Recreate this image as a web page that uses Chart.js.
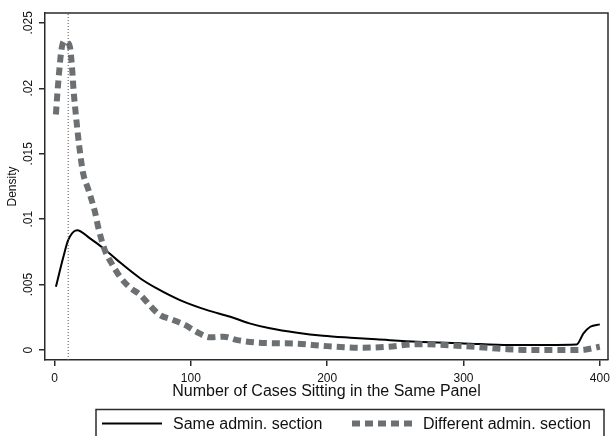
<!DOCTYPE html>
<html>
<head>
<meta charset="utf-8">
<script src="https://cdn.jsdelivr.net/npm/chart.js@4"></script>
<style>
  html, body { margin: 0; padding: 0; background: #fff; }
  #densityChart { display: block; }
</style>
</head>
<body>
<canvas id="densityChart" width="610" height="436"></canvas>
<script>
// kernel density, same admin. section (solid)
const sameX = [1, 6.5, 10, 16.5, 26, 36, 46, 63, 75, 92, 112, 129, 143, 158, 178, 197, 217, 236, 266, 300, 334, 383, 388, 393, 400];
const sameY = [0.00483, 0.00712, 0.0084, 0.00916, 0.00853, 0.00776, 0.00687, 0.00547, 0.00471, 0.00382, 0.00305, 0.00254, 0.00204, 0.00166, 0.00132, 0.00109, 0.00094, 0.00082, 0.00063, 0.00051, 0.00038, 0.00043, 0.00127, 0.00178, 0.00196];

// different admin. section (dashed)
const diffX = [1, 2, 3.5, 5, 7, 9.5, 11.4, 12.6, 14, 16, 18.2, 21, 25, 30, 32, 37, 42, 48, 55, 63, 70, 77, 87, 96, 104, 114, 124, 134, 150, 175, 200, 226, 245, 265, 300, 330, 350, 380, 390, 400];
const diffY = [0.0180, 0.0195, 0.0214, 0.0229, 0.0236, 0.0235, 0.0231, 0.0219, 0.0198, 0.0176, 0.0155, 0.0135, 0.0122, 0.0104, 0.0094, 0.0076, 0.0066, 0.0056, 0.0048, 0.0042, 0.0034, 0.0027, 0.0023, 0.0019, 0.0014, 0.00097, 0.00102, 0.00076, 0.00056, 0.0005, 0.0003, 0.00018, 0.00025, 0.00045, 0.0003, 0.00008, 0.0, 0.0, 0.00005, 0.00025];

const refLineX = 10;
const xTicks = [0, 100, 200, 300, 400];
const yTicks = [0, 0.005, 0.01, 0.015, 0.02, 0.025];
const seriesLabels = ['Same admin. section', 'Different admin. section'];
const xTitle = 'Number of Cases Sitting in the Same Panel';
const yTitle = 'Density';

const X_MIN = -7, X_MAX = 406;
const Y_MIN = -0.00076, Y_MAX = 0.02575;
const FONT = "'Liberation Sans', Arial, sans-serif";
const AXIS = '#2b2b2b';
const GREY = '#6c7072';

function toPoints(xs, ys) {
    return xs.map((x, i) => ({ x: x, y: ys[i] }));
}

function yLabel(v) {
    if (v === 0) return '0';
    return String(+v.toFixed(3)).replace(/^0/, '');
}

// frame, rotated y labels, titles and the boxed legend
const stataDecor = {
    id: 'stataDecor',
    afterDraw(chart) {
        const ctx = chart.ctx;
        const area = chart.chartArea;
        const yScale = chart.scales.y;

        ctx.save();
        ctx.strokeStyle = AXIS;
        ctx.lineWidth = 1.5;
        ctx.beginPath();
        ctx.moveTo(area.left, area.top);
        ctx.lineTo(area.right, area.top);
        ctx.lineTo(area.right, area.bottom);
        ctx.stroke();

        ctx.fillStyle = '#111';
        ctx.font = '12px ' + FONT;
        ctx.textAlign = 'center';
        ctx.textBaseline = 'middle';
        yTicks.forEach(v => {
            const py = yScale.getPixelForValue(v);
            ctx.save();
            ctx.translate(29, py);
            ctx.rotate(-Math.PI / 2);
            ctx.fillText(yLabel(v), 0, 0);
            ctx.restore();
        });

        ctx.save();
        ctx.translate(13, (area.top + area.bottom) / 2);
        ctx.rotate(-Math.PI / 2);
        ctx.fillText(yTitle, 0, 0);
        ctx.restore();

        ctx.font = '16px ' + FONT;
        ctx.fillText(xTitle, (area.left + area.right) / 2, 392);

        // legend
        ctx.lineWidth = 1.5;
        ctx.strokeStyle = AXIS;
        ctx.strokeRect(96, 409.5, 508, 40);

        const ly = 423.5;
        ctx.strokeStyle = '#000';
        ctx.lineWidth = 2;
        ctx.beginPath();
        ctx.moveTo(102, ly);
        ctx.lineTo(162, ly);
        ctx.stroke();

        ctx.strokeStyle = GREY;
        ctx.lineWidth = 6;
        ctx.setLineDash([8, 5]);
        ctx.beginPath();
        ctx.moveTo(352, ly);
        ctx.lineTo(414, ly);
        ctx.stroke();
        ctx.setLineDash([]);

        ctx.fillStyle = '#111';
        ctx.textAlign = 'left';
        ctx.fillText(seriesLabels[0], 173, ly + 1);
        ctx.fillText(seriesLabels[1], 423, ly + 1);
        ctx.restore();
    }
};

const ctx = document.getElementById('densityChart').getContext('2d');

new Chart(ctx, {
    type: 'line',
    data: {
        datasets: [
            {
                label: 'ref',
                data: [{ x: refLineX, y: Y_MIN }, { x: refLineX, y: Y_MAX }],
                borderColor: '#555',
                borderWidth: 1,
                borderDash: [1, 2],
                pointRadius: 0
            },
            {
                label: seriesLabels[1],
                data: toPoints(diffX, diffY),
                borderColor: GREY,
                borderWidth: 6,
                borderDash: [8, 5],
                borderCapStyle: 'butt',
                cubicInterpolationMode: 'monotone',
                pointRadius: 0
            },
            {
                label: seriesLabels[0],
                data: toPoints(sameX, sameY),
                borderColor: '#000',
                borderWidth: 2,
                cubicInterpolationMode: 'monotone',
                pointRadius: 0
            }
        ]
    },
    options: {
        responsive: false,
        animation: false,
        events: [],
        layout: { padding: { top: 13, right: 2, left: 0, bottom: 0 } },
        plugins: {
            legend: { display: false },
            tooltip: { enabled: false }
        },
        scales: {
            x: {
                type: 'linear',
                position: 'bottom',
                min: X_MIN,
                max: X_MAX,
                afterFit: s => {
                    s.height = 76;
                    // keep the "400" label from pulling the plot edge in
                    s.paddingLeft = 0;
                    s.paddingRight = 0;
                },
                afterBuildTicks: s => { s.ticks = xTicks.map(v => ({ value: v })); },
                grid: { drawOnChartArea: false, tickLength: 6, color: AXIS, lineWidth: 1.5 },
                border: { color: AXIS, width: 1.5 },
                ticks: {
                    color: '#111',
                    font: { family: FONT, size: 12 },
                    padding: 5,
                    maxRotation: 0,
                    callback: v => String(v)
                }
            },
            y: {
                type: 'linear',
                min: Y_MIN,
                max: Y_MAX,
                afterFit: s => { s.width = 45; },
                afterBuildTicks: s => { s.ticks = yTicks.map(v => ({ value: v })); },
                grid: { drawOnChartArea: false, tickLength: 6, color: AXIS, lineWidth: 1.5 },
                border: { color: AXIS, width: 1.5 },
                ticks: {
                    color: 'rgba(0,0,0,0)',
                    font: { family: FONT, size: 12 },
                    callback: v => yLabel(v)
                }
            }
        }
    },
    plugins: [stataDecor]
});
</script>
</body>
</html>
